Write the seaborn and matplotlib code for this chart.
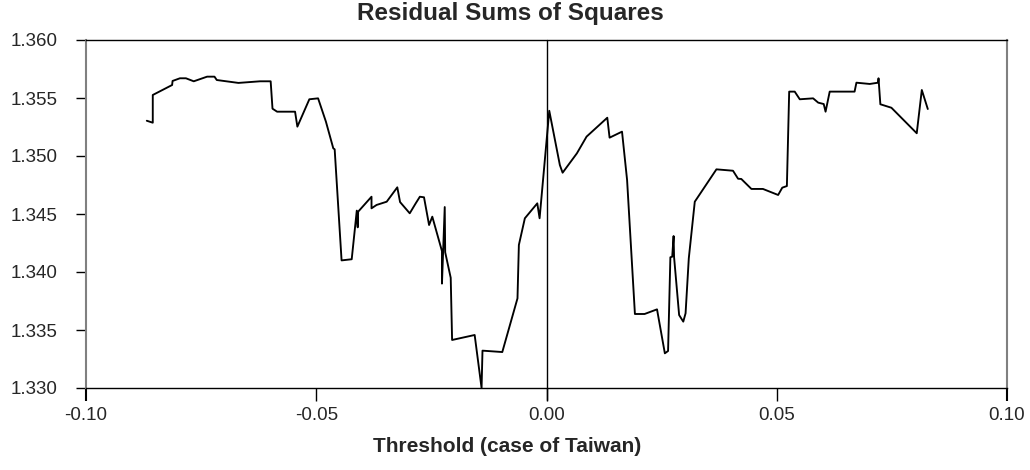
import numpy as np
import pandas as pd
import matplotlib
matplotlib.use("Agg")
import matplotlib.pyplot as plt
import seaborn as sns

# threshold values (x) and residual sums of squares (y)
threshold = [-0.0868, -0.0855, -0.0855, -0.0813, -0.0812, -0.0796, -0.0783, -0.0766,
             -0.0737, -0.0721, -0.0716, -0.0669, -0.0622, -0.0599, -0.0595, -0.0585,
             -0.0546, -0.0541, -0.0515, -0.0496, -0.0479, -0.0463, -0.0460, -0.0445,
             -0.0423, -0.0412, -0.0410, -0.0409, -0.0380, -0.0380, -0.0369, -0.0347,
             -0.0324, -0.0318, -0.0297, -0.0284, -0.0275, -0.0266, -0.0255, -0.0248,
             -0.0227, -0.0227, -0.0221, -0.0220, -0.0208, -0.0205, -0.0156, -0.0141,
             -0.0139, -0.0096, -0.0063, -0.0060, -0.0047, -0.0020, -0.0015, 0.0006,
             0.0029, 0.0035, 0.0066, 0.0087, 0.0132, 0.0137, 0.0164, 0.0175,
             0.0192, 0.0213, 0.0240, 0.0257, 0.0264, 0.0269, 0.0273, 0.0276,
             0.0277, 0.0288, 0.0297, 0.0302, 0.0309, 0.0322, 0.0369, 0.0405,
             0.0416, 0.0423, 0.0445, 0.0470, 0.0503, 0.0512, 0.0522, 0.0527,
             0.0539, 0.0550, 0.0579, 0.0590, 0.0602, 0.0606, 0.0615, 0.0669,
             0.0673, 0.0702, 0.0720, 0.0721, 0.0725, 0.0749, 0.0804, 0.0815,
             0.0828]
rss = [1.35304, 1.35287, 1.35526, 1.35612, 1.35647, 1.35670, 1.35670, 1.35644,
       1.35684, 1.35684, 1.35655, 1.35630, 1.35644, 1.35644, 1.35408, 1.35382,
       1.35382, 1.35253, 1.35489, 1.35497, 1.35296, 1.35066, 1.35058, 1.34100,
       1.34110, 1.34529, 1.34385, 1.34520, 1.34649, 1.34549, 1.34578, 1.34606,
       1.34730, 1.34603, 1.34506, 1.34592, 1.34649, 1.34644, 1.34405, 1.34477,
       1.34180, 1.33900, 1.34560, 1.34170, 1.33950, 1.33414, 1.33457, 1.33000,
       1.33322, 1.33310, 1.33773, 1.34233, 1.34463, 1.34592, 1.34463, 1.35390,
       1.34922, 1.34856, 1.35023, 1.35167, 1.35330, 1.35158, 1.35210, 1.34793,
       1.33638, 1.33638, 1.33678, 1.33299, 1.33319, 1.34127, 1.34132, 1.34310,
       1.34130, 1.33629, 1.33572, 1.33644, 1.34118, 1.34606, 1.34885, 1.34873,
       1.34804, 1.34802, 1.34716, 1.34716, 1.34664, 1.34727, 1.34741, 1.35555,
       1.35555, 1.35489, 1.35497, 1.35460, 1.35448, 1.35382, 1.35555, 1.35555,
       1.35632, 1.35621, 1.35632, 1.35670, 1.35446, 1.35416, 1.35196, 1.35569,
       1.35405]

xticks = [-0.10, -0.05, 0.00, 0.05, 0.10]
yticks = [1.330, 1.335, 1.340, 1.345, 1.350, 1.355, 1.360]

sns.set_style("white")
plt.rcParams['font.family'] = ['Liberation Sans', 'DejaVu Sans']

df = pd.DataFrame({"threshold": threshold, "rss": rss})

fig = plt.figure(figsize=(10.3, 4.7), dpi=100)
ax = fig.add_axes([86/1030, 1-388/470, (1007-86)/1030, (388-40)/470])

sns.lineplot(data=df, x="threshold", y="rss", sort=False, estimator=None,
             color="black", linewidth=1.35, ax=ax)
ax.axvline(0, color="black", linewidth=1.0, ymin=-12/348, clip_on=False)

ax.set_xlim(-0.10, 0.10)
ax.set_ylim(1.330, 1.360)
ax.set_xticks(xticks)
ax.set_xticklabels(["%.2f" % v for v in xticks])
ax.set_yticks(yticks)
ax.set_yticklabels(["%.3f" % v for v in yticks])
ax.tick_params(axis="x", direction="out", length=9, width=1, color="black",
               labelsize=13.5, pad=5, bottom=True)
ax.tick_params(axis="y", direction="out", length=7.5, width=1, color="black",
               labelsize=13.5, pad=13, left=True)

# the end ticks continue the grey side borders
xt = ax.xaxis.get_major_ticks()
for t in (xt[0], xt[-1]):
    t.tick1line.set_color("#808080")
    t.tick1line.set_markeredgewidth(1.5)

for side in ["left", "right"]:
    ax.spines[side].set_color("#808080")
    ax.spines[side].set_linewidth(1.5)
ax.spines["top"].set_color("black")
ax.spines["bottom"].set_color("black")
ax.spines["top"].set_linewidth(1.0)
ax.spines["bottom"].set_linewidth(1.0)

ax.set_xlabel("")
ax.set_ylabel("")
fig.text(0.4955, 0.971, "Residual Sums of Squares", ha="center", va="center",
         fontsize=17.5, fontweight="bold")
fig.text(0.4925, 0.049, "Threshold (case of Taiwan)", ha="center", va="center",
         fontsize=15, fontweight="bold")

fig.savefig("out.png", dpi=100)
